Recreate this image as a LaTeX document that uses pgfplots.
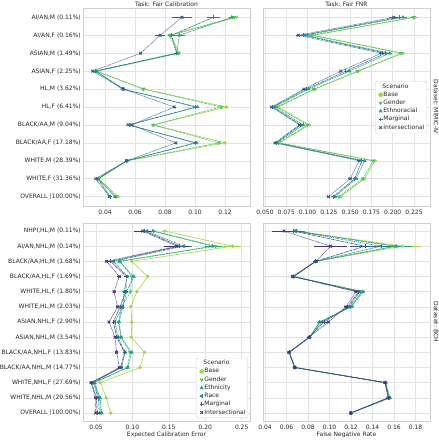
\documentclass[border=0pt]{standalone}
\usepackage{fontspec}
\setmainfont{DejaVu Sans}
\usepackage{pgfplots}
\usepackage{pgfplotstable}
\pgfplotsset{compat=1.18}

\definecolor{cBase}{HTML}{A0DA39}
\definecolor{cGender}{HTML}{4AC16D}
\definecolor{cEth}{HTML}{1FA187}
\definecolor{cRace}{HTML}{277F8E}
\definecolor{cMarg}{HTML}{365C8D}
\definecolor{cInter}{HTML}{46327E}
\definecolor{gridc}{HTML}{E2E2E2}
\definecolor{spine}{HTML}{D0D0D0}
\definecolor{txt}{HTML}{262626}

% ---------------- data ----------------
\pgfplotstableread{
y b be g ge e ee m me i ie
0 0.1278 0.0012 0.1262 0.0012 0.1245 0.0015 0.1122 0.0045 0.0913 0.0067
1 0.0838 0.0012 0.0830 0.0012 0.0896 0.0040 0.0844 0.0015 0.0767 0.0035
2 0.0896 0.0008 0.0888 0.0008 0.0878 0.0008 0.0876 0.0008 0.0638 0.0010
3 0.0344 0.0005 0.0342 0.0005 0.0340 0.0005 0.0338 0.0005 0.0318 0.0008
4 0.0660 0.0008 0.0655 0.0008 0.0515 0.0008 0.0525 0.0008 0.0522 0.0010
5 0.1210 0.0008 0.1175 0.0008 0.1016 0.0008 0.1005 0.0008 0.0862 0.0010
6 0.0725 0.0008 0.0720 0.0008 0.0552 0.0008 0.0562 0.0008 0.0578 0.0010
7 0.1200 0.0008 0.1160 0.0008 0.1010 0.0008 0.1000 0.0008 0.0873 0.0010
8 0.0545 0.0005 0.0545 0.0005 0.0545 0.0005 0.0545 0.0005 0.0544 0.0005
9 0.0358 0.0005 0.0356 0.0005 0.0354 0.0005 0.0352 0.0005 0.0338 0.0005
10 0.0489 0.0005 0.0474 0.0005 0.0467 0.0005 0.0434 0.0005 0.0429 0.0005
}\tlcal

\pgfplotstableread{
y b be g ge e ee m me i ie
0 0.2258 0.004 0.2246 0.004 0.2120 0.005 0.2074 0.005 0.2012 0.006
1 0.1066 0.003 0.1047 0.003 0.0970 0.003 0.0949 0.003 0.0890 0.003
2 0.2120 0.003 0.2100 0.003 0.1965 0.003 0.1918 0.003 0.1867 0.003
3 0.1600 0.002 0.1586 0.002 0.1490 0.002 0.1450 0.002 0.1390 0.002
4 0.1086 0.002 0.1074 0.002 0.1010 0.002 0.0988 0.002 0.0957 0.002
5 0.0656 0.002 0.0640 0.002 0.0610 0.002 0.0590 0.002 0.0578 0.002
6 0.1020 0.002 0.1000 0.002 0.0950 0.002 0.0920 0.002 0.0902 0.002
7 0.0668 0.001 0.0660 0.001 0.0640 0.001 0.0630 0.001 0.0617 0.001
8 0.1790 0.002 0.1770 0.002 0.1670 0.002 0.1637 0.002 0.1605 0.002
9 0.1670 0.002 0.1650 0.002 0.1570 0.002 0.1555 0.002 0.1500 0.002
10 0.1390 0.002 0.1370 0.002 0.1320 0.002 0.1300 0.002 0.1246 0.002
}\trfnr

\pgfplotstableread{
y b be g ge e ee r re m me i ie
0 0.1445 0.004 0.1290 0.004 0.1280 0.004 0.1200 0.005 0.1165 0.006 0.1138 0.012
1 0.2376 0.012 0.2140 0.010 0.2100 0.010 0.1700 0.012 0.1647 0.012 0.1610 0.017
2 0.0990 0.002 0.0830 0.002 0.0820 0.002 0.0739 0.002 0.0700 0.002 0.0647 0.003
3 0.1210 0.002 0.0990 0.002 0.1020 0.002 0.0930 0.002 0.0915 0.002 0.0820 0.003
4 0.1060 0.002 0.0975 0.002 0.0920 0.002 0.0885 0.002 0.0910 0.002 0.0748 0.002
5 0.0977 0.002 0.0850 0.002 0.0870 0.002 0.0867 0.002 0.0830 0.002 0.0798 0.002
6 0.0992 0.002 0.0810 0.002 0.0817 0.002 0.0760 0.002 0.0739 0.002 0.0679 0.002
7 0.0982 0.002 0.0840 0.002 0.0844 0.002 0.0800 0.002 0.0784 0.002 0.0761 0.002
8 0.1165 0.002 0.0968 0.002 0.0990 0.002 0.0900 0.002 0.0890 0.002 0.0784 0.002
9 0.1106 0.002 0.0930 0.002 0.0936 0.002 0.0850 0.002 0.0840 0.002 0.0821 0.002
10 0.0560 0.001 0.0470 0.001 0.0480 0.001 0.0463 0.001 0.0440 0.001 0.0431 0.001
11 0.0640 0.001 0.0545 0.001 0.0555 0.001 0.0532 0.001 0.0505 0.001 0.0495 0.001
12 0.0702 0.001 0.0570 0.001 0.0578 0.001 0.0546 0.001 0.0520 0.001 0.0495 0.001
}\blcal

\pgfplotstableread{
y b be g ge e ee r re m me i ie
0 0.0690 0.008 0.0688 0.008 0.0690 0.008 0.0685 0.008 0.0664 0.008 0.0577 0.011
1 0.1680 0.017 0.1600 0.015 0.1620 0.015 0.1480 0.014 0.1330 0.014 0.1010 0.015
2 0.0870 0.002 0.0870 0.002 0.0872 0.002 0.0868 0.002 0.0870 0.002 0.0875 0.002
3 0.0665 0.001 0.0665 0.001 0.0666 0.001 0.0664 0.001 0.0662 0.001 0.0657 0.001
4 0.1300 0.002 0.1305 0.002 0.1310 0.002 0.1280 0.002 0.1270 0.002 0.1247 0.002
5 0.1200 0.002 0.1195 0.002 0.1205 0.002 0.1185 0.002 0.1170 0.002 0.1153 0.002
6 0.0910 0.002 0.0915 0.002 0.0905 0.002 0.0930 0.002 0.0950 0.002 0.0989 0.002
7 0.0815 0.001 0.0815 0.001 0.0816 0.001 0.0814 0.001 0.0813 0.001 0.0810 0.001
8 0.0625 0.001 0.0625 0.001 0.0626 0.001 0.0624 0.001 0.0624 0.001 0.0623 0.001
9 0.0678 0.001 0.0678 0.001 0.0679 0.001 0.0677 0.001 0.0677 0.001 0.0676 0.001
10 0.1520 0.001 0.1520 0.001 0.1522 0.001 0.1518 0.001 0.1517 0.001 0.1515 0.001
11 0.1565 0.001 0.1555 0.001 0.1560 0.001 0.1550 0.001 0.1550 0.001 0.1545 0.001
12 0.1200 0.001 0.1200 0.001 0.1201 0.001 0.1199 0.001 0.1199 0.001 0.1198 0.001
}\brfnr

\newcommand{\fs}{\fontsize{6}{7}\selectfont}

\pgfplotsset{
  myax/.style={
    scale only axis, width=167pt, height=198pt,
    y dir=reverse,
    axis line style={draw=spine, line width=0.5pt},
    grid=major, major grid style={draw=gridc, line width=0.5pt},
    tick style={draw=none},
    tick label style={font=\fs, text=txt},
    label style={font=\fs, text=txt},
    every axis title/.style={font=\fs, text=txt, at={(0.5,1)}, anchor=south, yshift=0.3pt, inner sep=0.5pt},
    /pgf/number format/assume math mode=true,
    scaled x ticks=false,
    xticklabel style={/pgf/number format/fixed, /pgf/number format/fixed zerofill, /pgf/number format/precision=2, inner sep=0pt, yshift=-3.5pt},
    yticklabel style={inner sep=0pt, xshift=-2pt},
    xlabel style={at={(axis description cs:0.5,0)}, anchor=north, yshift=-10pt, inner sep=1pt},
    error bars/x dir=both, error bars/x explicit,
    error bars/error mark=none,
    error bars/error bar style={solid, line width=0.7pt},
    legend style={draw=spine, fill=white, rounded corners=1.5pt, font=\fs, text=txt,
      inner sep=1.5pt, row sep=0.6pt, nodes={inner sep=0.8pt}, cells={anchor=west}},
  },
  sBase/.style={mark=*, mark size=1.4pt, mark options={solid}, line width=0.6pt, solid},
  sGender/.style={mark=triangle*, mark size=1.7pt, mark options={solid, rotate=180}, line width=0.6pt, dash pattern=on 2.4pt off 0.9pt},
  sEth/.style={mark=triangle*, mark size=1.7pt, mark options={solid}, line width=0.6pt, dash pattern=on 1.2pt off 0.6pt},
  sRace/.style={mark=triangle*, mark size=1.7pt, mark options={solid, rotate=90}, line width=0.6pt, dash pattern=on 1.8pt off 0.75pt on 0.9pt off 0.75pt},
  sMarg/.style={mark=+, mark size=1.9pt, mark options={solid, line width=0.9pt}, line width=0.6pt, dash pattern=on 3pt off 0.6pt on 0.6pt off 0.6pt},
  sInter/.style={mark=x, mark size=1.9pt, mark options={solid, line width=0.9pt}, line width=0.6pt, dash pattern=on 0.6pt off 0.6pt},
  mleg/.style={legend image code/.code={\draw[##1] plot coordinates {(0.14cm,0cm)};}},
}

\begin{document}
\begin{tikzpicture}
\path[use as bounding box] (0,0) rectangle (439pt,-440pt);

% ---------- top left ----------
\begin{axis}[myax, at={(83pt,-8pt)}, anchor=north west,
  xmin=0.02533, xmax=0.13667, ymin=-0.52, ymax=10.52,
  xtick={0.04,0.06,0.08,0.10,0.12},
  ytick={0,...,10},
  yticklabels={{AI/AN,M (0.11\%)},{AI/AN,F (0.16\%)},{ASIAN,M (1.49\%)},{ASIAN,F (2.25\%)},{HL,M (3.62\%)},{HL,F (6.41\%)},{BLACK/AA,M (9.04\%)},{BLACK/AA,F (17.18\%)},{WHITE,M (28.39\%)},{WHITE,F (31.36\%)},{OVERALL (100.00\%)}},
  title={Task: Fair Calibration}]
\addplot[sBase, color=cBase, forget plot] table[x=b, y=y, x error=be] {\tlcal};
\addplot[sGender, color=cGender, forget plot] table[x=g, y=y, x error=ge] {\tlcal};
\addplot[sEth, color=cEth, forget plot] table[x=e, y=y, x error=ee] {\tlcal};
\addplot[sMarg, color=cRace, forget plot] table[x=m, y=y, x error=me] {\tlcal};
\addplot[sInter, color=cMarg, forget plot] table[x=i, y=y, x error=ie] {\tlcal};
\end{axis}

% ---------- top right ----------
\begin{axis}[myax, at={(263pt,-8pt)}, anchor=north west,
  xmin=0.04765, xmax=0.2438, ymin=-0.52, ymax=10.52,
  xtick={0.05,0.075,0.1,0.125,0.15,0.175,0.2,0.225},
  xticklabel style={/pgf/number format/precision=3},
  ytick={0,...,10}, yticklabels={},
  title={Task: Fair FNR},
  legend style={at={(axis description cs:0.982,0.631)}, anchor=north east}]
\addplot[sBase, color=cBase, forget plot] table[x=b, y=y, x error=be] {\trfnr};
\addplot[sGender, color=cGender, forget plot] table[x=g, y=y, x error=ge] {\trfnr};
\addplot[sEth, color=cEth, forget plot] table[x=e, y=y, x error=ee] {\trfnr};
\addplot[sMarg, color=cRace, forget plot] table[x=m, y=y, x error=me] {\trfnr};
\addplot[sInter, color=cMarg, forget plot] table[x=i, y=y, x error=ie] {\trfnr};
\addlegendimage{empty legend}\addlegendentry{\hspace*{-1pt}Scenario}
\addlegendimage{only marks, mleg, sBase, mark size=2pt, color=cBase}\addlegendentry{Base}
\addlegendimage{only marks, mleg, sGender, color=cGender}\addlegendentry{Gender}
\addlegendimage{only marks, mleg, sEth, color=cEth}\addlegendentry{Ethnoracial}
\addlegendimage{only marks, mleg, sMarg, color=cRace}\addlegendentry{Marginal}
\addlegendimage{only marks, mleg, sInter, color=cMarg}\addlegendentry{Intersectional}
\end{axis}
\node[font=\fs, text=txt, rotate=-90, inner sep=0pt] at (436pt,-107pt) {Dataset: MIMIC-IV};

% ---------- bottom left ----------
\begin{axis}[myax, at={(83pt,-223pt)}, anchor=north west,
  xmin=0.03216, xmax=0.2614, ymin=-0.53, ymax=12.53,
  xtick={0.05,0.10,0.15,0.20,0.25},
  ytick={0,...,12},
  yticklabels={{NHPI,HL,M (0.11\%)},{AI/AN,NHL,M (0.14\%)},{BLACK/AA,HL,M (1.68\%)},{BLACK/AA,HL,F (1.69\%)},{WHITE,HL,F (1.80\%)},{WHITE,HL,M (2.03\%)},{ASIAN,NHL,F (2.90\%)},{ASIAN,NHL,M (3.54\%)},{BLACK/AA,NHL,F (13.83\%)},{BLACK/AA,NHL,M (14.77\%)},{WHITE,NHL,F (27.69\%)},{WHITE,NHL,M (29.56\%)},{OVERALL (100.00\%)}},
  xlabel={Expected Calibration Error},
  legend style={at={(axis description cs:0.988,0.015)}, anchor=south east}]
\addplot[sBase, color=cBase, forget plot] table[x=b, y=y, x error=be] {\blcal};
\addplot[sGender, color=cGender, forget plot] table[x=g, y=y, x error=ge] {\blcal};
\addplot[sEth, color=cEth, forget plot] table[x=e, y=y, x error=ee] {\blcal};
\addplot[sRace, color=cRace, forget plot] table[x=r, y=y, x error=re] {\blcal};
\addplot[sMarg, color=cMarg, forget plot] table[x=m, y=y, x error=me] {\blcal};
\addplot[sInter, color=cInter, forget plot] table[x=i, y=y, x error=ie] {\blcal};
\addlegendimage{empty legend}\addlegendentry{\hspace*{-1pt}Scenario}
\addlegendimage{only marks, mleg, sBase, mark size=2pt, color=cBase}\addlegendentry{Base}
\addlegendimage{only marks, mleg, sGender, color=cGender}\addlegendentry{Gender}
\addlegendimage{only marks, mleg, sEth, color=cEth}\addlegendentry{Ethnicity}
\addlegendimage{only marks, mleg, sRace, color=cRace}\addlegendentry{Race}
\addlegendimage{only marks, mleg, sMarg, color=cMarg}\addlegendentry{Marginal}
\addlegendimage{only marks, mleg, sInter, color=cInter}\addlegendentry{Intersectional}
\end{axis}

% ---------- bottom right ----------
\begin{axis}[myax, at={(263pt,-223pt)}, anchor=north west,
  xmin=0.03814, xmax=0.1935, ymin=-0.53, ymax=12.53,
  xtick={0.04,0.06,0.08,0.10,0.12,0.14,0.16,0.18},
  ytick={0,...,12}, yticklabels={},
  xlabel={False Negative Rate}]
\addplot[sBase, color=cBase, forget plot] table[x=b, y=y, x error=be] {\brfnr};
\addplot[sGender, color=cGender, forget plot] table[x=g, y=y, x error=ge] {\brfnr};
\addplot[sEth, color=cEth, forget plot] table[x=e, y=y, x error=ee] {\brfnr};
\addplot[sRace, color=cRace, forget plot] table[x=r, y=y, x error=re] {\brfnr};
\addplot[sMarg, color=cMarg, forget plot] table[x=m, y=y, x error=me] {\brfnr};
\addplot[sInter, color=cInter, forget plot] table[x=i, y=y, x error=ie] {\brfnr};
\end{axis}
\node[font=\fs, text=txt, rotate=-90, inner sep=0pt] at (436pt,-322pt) {Dataset: BCH};
\end{tikzpicture}
\end{document}
